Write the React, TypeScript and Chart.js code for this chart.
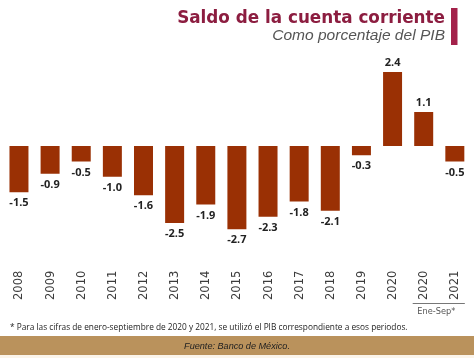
import React, { useEffect, useRef } from "react";
import { Chart, registerables } from "chart.js";

Chart.register(...registerables);

const CATEGORIES = ["2008", "2009", "2010", "2011", "2012", "2013", "2014", "2015", "2016", "2017", "2018", "2019", "2020", "2020", "2021"];
const VALUES = [-1.5, -0.9, -0.5, -1.0, -1.6, -2.5, -1.9, -2.7, -2.3, -1.8, -2.1, -0.3, 2.4, 1.1, -0.5];
const TITLE = "Saldo de la cuenta corriente";
const SUBTITLE = "Como porcentaje del PIB";
const PERIOD_LABEL = "Ene-Sep*";
const FOOTNOTE = "* Para las cifras de enero-septiembre de 2020 y 2021, se utilizó el PIB correspondiente a esos periodos.";
const SOURCE = "Fuente: Banco de México.";

function fitFont(ctx: CanvasRenderingContext2D, text: string, style: string, family: string, target: number) {
  ctx.font = `${style} 20px ${family}`;
  const w = ctx.measureText(text).width;
  const size = (20 * target) / w;
  ctx.font = `${style} ${size}px ${family}`;
}

const decorPlugin = {
  id: "decor",
  afterDatasetsDraw(chart: any) {
    const ctx: CanvasRenderingContext2D = chart.ctx;
    const meta = chart.getDatasetMeta(0);
    const xScale = chart.scales.x;
    ctx.save();
    // value labels
    ctx.fillStyle = "#222222";
    ctx.font = "bold 11px 'Open Sans'";
    ctx.textAlign = "center";
    ctx.textBaseline = "middle";
    meta.data.forEach((bar: any, i: number) => {
      const v = VALUES[i];
      const y = v < 0 ? bar.y + 11 : bar.y - 9;
      ctx.fillText(v.toFixed(1), bar.x, y);
    });
    // year labels rotated
    ctx.fillStyle = "#3c3c3c";
    ctx.font = "11.5px 'DejaVu Sans'";
    CATEGORIES.forEach((c, i) => {
      const x = xScale.getPixelForValue(i);
      ctx.save();
      ctx.translate(x + 0.5, 300);
      ctx.rotate(-Math.PI / 2);
      ctx.textAlign = "left";
      ctx.textBaseline = "middle";
      ctx.fillText(c, 0, 0);
      ctx.restore();
    });
    // Ene-Sep bracket
    const xa = xScale.getPixelForValue(13);
    const xb = xScale.getPixelForValue(14);
    ctx.strokeStyle = "#777777";
    ctx.lineWidth = 1;
    ctx.beginPath();
    ctx.moveTo(xa - 11, 303.5);
    ctx.lineTo(xb + 10, 303.5);
    ctx.stroke();
    ctx.fillStyle = "#555555";
    fitFont(ctx, PERIOD_LABEL, "normal", "'DejaVu Sans'", 38);
    ctx.textAlign = "center";
    ctx.textBaseline = "middle";
    ctx.fillText(PERIOD_LABEL, (xa + xb) / 2 - 3, 312);

    // title
    ctx.textAlign = "right";
    ctx.textBaseline = "alphabetic";
    ctx.fillStyle = "#8C1D40";
    fitFont(ctx, TITLE, "bold", "'DejaVu Sans'", 268);
    ctx.fillText(TITLE, 445, 22.5);
    ctx.fillStyle = "#555555";
    fitFont(ctx, SUBTITLE, "italic", "'Liberation Sans'", 173);
    ctx.fillText(SUBTITLE, 445, 39.5);
    ctx.fillStyle = "#A3214A";
    ctx.fillRect(451, 8, 6.5, 37);

    // footnote
    ctx.textAlign = "left";
    ctx.textBaseline = "middle";
    ctx.fillStyle = "#222222";
    fitFont(ctx, FOOTNOTE, "normal", "'Open Sans'", 398);
    ctx.fillText(FOOTNOTE, 10, 327.5);

    // source band
    ctx.fillStyle = "#BA925C";
    ctx.fillRect(0, 336, 474, 19);
    ctx.fillStyle = "#FBF4EA";
    ctx.fillRect(0, 355, 474, 3);
    ctx.fillStyle = "#222222";
    ctx.textAlign = "center";
    fitFont(ctx, SOURCE, "italic", "'Liberation Sans'", 106);
    ctx.fillText(SOURCE, 237, 346);
    ctx.restore();
  },
};

export default function App() {
  const ref = useRef<HTMLCanvasElement | null>(null);
  useEffect(() => {
    document.body.style.margin = "0";
    const canvas = ref.current!;
    const chart = new Chart(canvas, {
      type: "bar",
      data: {
        labels: CATEGORIES,
        datasets: [
          {
            data: VALUES,
            backgroundColor: "#9A3004",
            barPercentage: 0.61,
            categoryPercentage: 1,
          },
        ],
      },
      options: {
        responsive: false,
        animation: false,
        devicePixelRatio: 1,
        layout: { padding: { left: 3.4, right: 3.6, top: 53.6, bottom: 104.2 } },
        scales: {
          x: { display: false },
          y: { display: false, min: -3.5, max: 3.0 },
        },
        plugins: { legend: { display: false }, tooltip: { enabled: false } },
      },
      plugins: [decorPlugin],
    });
    return () => chart.destroy();
  }, []);
  return (
    <div style={{ width: 474, height: 358, background: "#ffffff" }}>
      <canvas ref={ref} width={474} height={358} style={{ display: "block" }} />
    </div>
  );
}
